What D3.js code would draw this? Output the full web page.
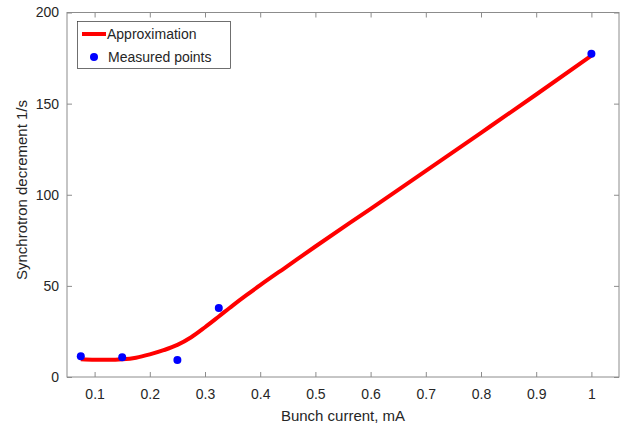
<!DOCTYPE html>
<html><head><meta charset="utf-8">
<script src="https://cdn.jsdelivr.net/npm/d3@7"></script>
<style>body{margin:0;background:#fff}svg{display:block}text{font-family:"Liberation Sans",Arial,sans-serif;fill:#262626}</style>
</head><body><svg id="c" width="621" height="430"></svg>
<script>
const measuredX = [0.075, 0.15, 0.25, 0.325, 1.0];
const measuredY = [11.4, 10.8, 9.3, 37.8, 177.3];
const approxX = [0.075,0.1,0.125,0.15,0.175,0.2,0.225,0.25,0.275,0.3,0.325,0.35,0.375,0.4,0.45,0.5,0.6,0.7,0.8,0.9,1.0];
const approxY = [9.8,9.5,9.4,9.7,10.6,12.4,14.7,17.6,21.8,27.3,33.2,39.2,44.9,50.4,61.0,71.6,92.3,113.1,134.0,155.0,176.3];
const xTicks = [0.1,0.2,0.3,0.4,0.5,0.6,0.7,0.8,0.9,1];
const yTicks = [0,50,100,150,200];
const seriesNames = ["Approximation","Measured points"];

const svg = d3.select("#c");
const L=67, R=619, T=12.5, B=377;
const x = d3.scaleLinear().domain([0.05,1.05]).range([L,R]);
const y = d3.scaleLinear().domain([0,200]).range([B,T]);
const axisColor = "#8c8c8c";

svg.append("rect").attr("x",L).attr("y",T).attr("width",R-L).attr("height",B-T)
  .attr("fill","none").attr("stroke",axisColor).attr("stroke-width",1);

const fmt = d => String(d);
const gx = svg.append("g").attr("transform",`translate(0,${B})`)
  .call(d3.axisBottom(x).tickValues(xTicks).tickFormat(fmt).tickSizeInner(-5).tickSizeOuter(0).tickPadding(12));
const gxt = svg.append("g").attr("transform",`translate(0,${T})`)
  .call(d3.axisTop(x).tickValues(xTicks).tickFormat("").tickSizeInner(-5).tickSizeOuter(0));
const gy = svg.append("g").attr("transform",`translate(${L},0)`)
  .call(d3.axisLeft(y).tickValues(yTicks).tickFormat(fmt).tickSizeInner(-5).tickSizeOuter(0).tickPadding(8));
const gyr = svg.append("g").attr("transform",`translate(${R},0)`)
  .call(d3.axisRight(y).tickValues(yTicks).tickFormat("").tickSizeInner(-5).tickSizeOuter(0));
[gx,gxt,gy,gyr].forEach(g=>{
  g.select(".domain").remove();
  g.selectAll(".tick line").attr("stroke",axisColor);
  g.selectAll(".tick text").attr("font-size",14).style("fill","#262626")
   .attr("font-family",'"Liberation Sans",Arial,sans-serif');
});

const approx = approxX.map((v,i)=>[v,approxY[i]]);
svg.append("path").datum(approx)
  .attr("d", d3.line().x(d=>x(d[0])).y(d=>y(d[1])).curve(d3.curveMonotoneX))
  .attr("fill","none").attr("stroke","#ff0000").attr("stroke-width",4).attr("stroke-linejoin","round");

svg.selectAll("circle.m").data(measuredX.map((v,i)=>[v,measuredY[i]])).enter()
  .append("circle").attr("class","m").attr("cx",d=>x(d[0])).attr("cy",d=>y(d[1])).attr("r",4)
  .attr("fill","#0000ff");

svg.append("text").attr("x",(L+R)/2).attr("y",421).attr("text-anchor","middle")
  .attr("font-size",15).text("Bunch current, mA");
svg.append("text").attr("transform",`translate(27,190) rotate(-90)`).attr("text-anchor","middle")
  .attr("font-size",15).text("Synchrotron decrement 1/s");

// legend
const lg = svg.append("g");
lg.append("rect").attr("x",77.5).attr("y",21.5).attr("width",153).attr("height",47)
  .attr("fill","#fff").attr("stroke","#333").attr("stroke-width",0.7);
lg.append("line").attr("x1",82).attr("x2",106).attr("y1",34).attr("y2",34)
  .attr("stroke","#ff0000").attr("stroke-width",4);
lg.append("circle").attr("cx",94).attr("cy",57).attr("r",4).attr("fill","#0000ff");
lg.append("text").attr("x",107).attr("y",39).attr("font-size",14).text(seriesNames[0]);
lg.append("text").attr("x",108).attr("y",62).attr("font-size",14).text(seriesNames[1]);
</script></body></html>
